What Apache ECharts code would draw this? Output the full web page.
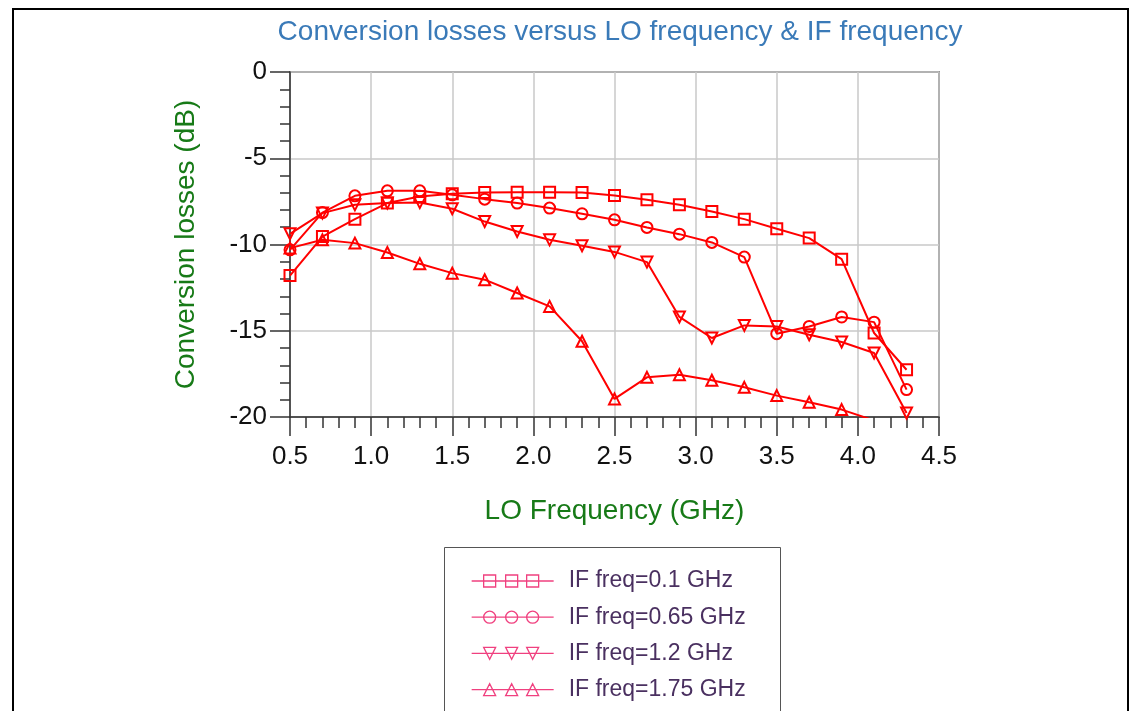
<!DOCTYPE html>
<html>
<head>
<meta charset="utf-8">
<script src="https://cdn.jsdelivr.net/npm/echarts@6/dist/echarts.min.js"></script>
<style>
  html, body { margin: 0; padding: 0; background: #fff; }
  #chart { width: 1133px; height: 711px; }
</style>
</head>
<body>
<div id="chart"></div>
<script>
// LO frequency (GHz)
const loFreq = [0.5, 0.7, 0.9, 1.1, 1.3, 1.5, 1.7, 1.9, 2.1, 2.3, 2.5, 2.7, 2.9, 3.1, 3.3, 3.5, 3.7, 3.9, 4.1, 4.3];

// conversion losses (dB) per IF frequency
const if010 = [-11.8, -9.54, -8.53, -7.6, -7.22, -7.06, -6.99, -6.97, -6.97, -6.98, -7.16, -7.41, -7.7, -8.09, -8.53, -9.09, -9.63, -10.85, -15.13, -17.26];
const if065 = [-10.31, -8.15, -7.18, -6.89, -6.89, -7.12, -7.37, -7.6, -7.89, -8.22, -8.57, -9.01, -9.4, -9.88, -10.73, -15.17, -14.75, -14.2, -14.5, -18.41];
const if120 = [-9.38, -8.18, -7.7, -7.6, -7.57, -7.93, -8.67, -9.25, -9.73, -10.07, -10.43, -11.02, -14.2, -15.42, -14.69, -14.75, -15.23, -15.65, -16.29, -19.77];
const if175 = [-10.21, -9.73, -9.92, -10.46, -11.12, -11.66, -12.04, -12.81, -13.59, -15.61, -18.95, -17.7, -17.55, -17.87, -18.28, -18.76, -19.15, -19.57, -20.2];

const seriesNames = ['IF freq=0.1 GHz', 'IF freq=0.65 GHz', 'IF freq=1.2 GHz', 'IF freq=1.75 GHz'];

const FONT = '"Liberation Sans", Arial, sans-serif';
const RED = '#ff0000';
const PINK = '#f0407f';

// legend icons: line with three markers
const icons = [
  'path://M0 6 L82 6 M12 0 h12 v12 h-12 Z M34 0 h12 v12 h-12 Z M55 0 h12 v12 h-12 Z',
  'path://M0 6 L82 6 M12 6 A6 6 0 1 0 24 6 A6 6 0 1 0 12 6 M34 6 A6 6 0 1 0 46 6 A6 6 0 1 0 34 6 M55 6 A6 6 0 1 0 67 6 A6 6 0 1 0 55 6',
  'path://M0 6 L82 6 M12 0 L24 0 L18 12 Z M34 0 L46 0 L40 12 Z M55 0 L67 0 L61 12 Z',
  'path://M0 6 L82 6 M12 12 L24 12 L18 0 Z M34 12 L46 12 L40 0 Z M55 12 L67 12 L61 0 Z'
];

function pairs(ys) {
  return ys.map((y, i) => [loFreq[i], y]);
}

function makeSeries(name, ys, symbol, rotate) {
  return {
    name: name,
    type: 'line',
    data: pairs(ys),
    symbol: symbol,
    symbolRotate: rotate,
    symbolSize: 11,
    showAllSymbol: true,
    clip: true,
    lineStyle: { color: RED, width: 2 },
    itemStyle: { color: 'rgba(0,0,0,0)', borderColor: RED, borderWidth: 2 },
    emphasis: { disabled: true }
  };
}

const chart = echarts.init(document.getElementById('chart'));
chart.setOption({
  animation: false,
  backgroundColor: '#fff',
  title: {
    text: 'Conversion losses versus LO frequency & IF frequency',
    left: 615,
    top: 13,
    textAlign: 'center',
    textStyle: { color: '#3a7ab8', fontSize: 28, fontWeight: 'normal', fontFamily: FONT }
  },
  graphic: [
    {
      type: 'rect',
      shape: { x: 13, y: 9, width: 1115, height: 760 },
      style: { fill: 'none', stroke: '#000', lineWidth: 2 },
      z: -10
    },
    {
      type: 'rect',
      shape: { x: 444.5, y: 547.5, width: 336, height: 200 },
      style: { fill: '#fff', stroke: '#555', lineWidth: 1 },
      z: 5
    }
  ],
  legend: {
    orient: 'vertical',
    left: 466,
    top: 564,
    z: 10,
    itemWidth: 82,
    itemHeight: 12,
    itemGap: 12.2,
    selectedMode: false,
    itemStyle: { color: 'rgba(0,0,0,0)', borderColor: PINK, borderWidth: 1.3 },
    textStyle: { color: '#4a3060', fontSize: 23, fontFamily: FONT, lineHeight: 24, padding: [0, 0, 0, 10] },
    data: seriesNames.map((n, i) => ({ name: n, icon: icons[i] }))
  },
  grid: {
    left: 290,
    right: 194,
    top: 72,
    bottom: 294,
    show: true,
    borderColor: '#444',
    borderWidth: 1.5,
    containLabel: false
  },
  xAxis: {
    type: 'value',
    min: 0.5,
    max: 4.5,
    interval: 0.5,
    name: 'LO Frequency (GHz)',
    nameLocation: 'middle',
    nameGap: 80,
    nameTextStyle: { color: '#177a17', fontSize: 28, fontFamily: FONT },
    axisLine: { show: true, onZero: false, lineStyle: { color: '#333', width: 1.5 } },
    axisTick: { show: true, length: 19, lineStyle: { color: '#333', width: 1.5 } },
    minorTick: { show: true, splitNumber: 5, length: 11, lineStyle: { color: '#333', width: 1.5 } },
    splitLine: { show: true, lineStyle: { color: '#c8c8c8', width: 1.5 } },
    axisLabel: {
      margin: 27,
      color: '#111',
      fontSize: 26,
      fontFamily: FONT,
      formatter: v => v.toFixed(1)
    }
  },
  yAxis: {
    type: 'value',
    min: -20,
    max: 0,
    interval: 5,
    name: 'Conversion losses (dB)',
    nameLocation: 'middle',
    nameGap: 90,
    nameRotate: 90,
    nameTextStyle: { color: '#177a17', fontSize: 28, fontFamily: FONT },
    axisLine: { show: true, onZero: false, lineStyle: { color: '#333', width: 1.5 } },
    axisTick: { show: true, length: 20, lineStyle: { color: '#333', width: 1.5 } },
    minorTick: { show: true, splitNumber: 5, length: 10, lineStyle: { color: '#333', width: 1.5 } },
    splitLine: { show: true, lineStyle: { color: '#c8c8c8', width: 1.5 } },
    axisLabel: { margin: 23, color: '#111', fontSize: 26, fontFamily: FONT }
  },
  series: [
    makeSeries(seriesNames[0], if010, 'rect', 0),
    makeSeries(seriesNames[1], if065, 'circle', 0),
    makeSeries(seriesNames[2], if120, 'triangle', 180),
    makeSeries(seriesNames[3], if175, 'triangle', 0)
  ]
});
</script>
</body>
</html>
